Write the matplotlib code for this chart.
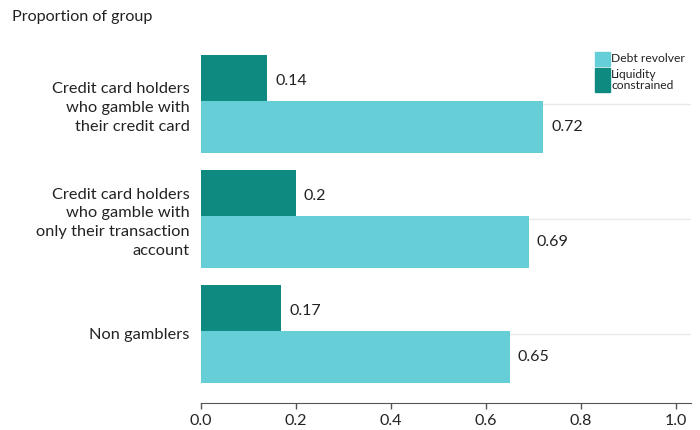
import matplotlib
matplotlib.use("Agg")
import matplotlib.pyplot as plt
from matplotlib.patches import Rectangle
import numpy as np

plt.rcParams['font.family'] = ['Lato', 'DejaVu Sans']

categories = [
    "Credit card holders\nwho gamble with\ntheir credit card",
    "Credit card holders\nwho gamble with\nonly their transaction\naccount",
    "Non gamblers",
]
liquidity_constrained = [0.14, 0.2, 0.17]
debt_revolver = [0.72, 0.69, 0.65]
series_names = ["Debt revolver", "Liquidity\nconstrained"]
x_ticks = [0.0, 0.2, 0.4, 0.6, 0.8, 1.0]
title = "Proportion of group"

light = "#66CED6"
dark = "#0E8A80"
text_col = "#222222"

fig = plt.figure(figsize=(7, 4.3), dpi=100)
ax = fig.add_axes([200.5 / 700, 1 - 403 / 430, 490 / 700, 368 / 430])

y = np.arange(len(categories))
h = 0.452
off = 0.2
ax.barh(y - off, liquidity_constrained, height=h, color=dark, zorder=2)
ax.barh(y + off, debt_revolver, height=h, color=light, zorder=3)

for yi, v in zip(y, liquidity_constrained):
    ax.text(v + 0.017, yi - off, f"{v:g}", va="center", ha="left",
            fontsize=11.5, color=text_col, zorder=4)
for yi, v in zip(y, debt_revolver):
    ax.text(v + 0.017, yi + off, f"{v:g}", va="center", ha="left",
            fontsize=11.5, color=text_col, zorder=4)

ax.set_xlim(0, 1.03)
ax.set_ylim(len(categories) - 0.4, -0.6)
ax.set_xticks(x_ticks)
ax.set_xticklabels([f"{t:.1f}" for t in x_ticks], fontsize=11.5, color=text_col)
ax.set_yticks(y)
ax.set_yticklabels(categories, fontsize=11.8, color=text_col, linespacing=1.45)
ax.tick_params(axis="y", length=0, pad=8)
ax.tick_params(axis="x", length=4, width=1, color="#555555", pad=4)
ax.yaxis.grid(True, color="#e9e9e9", linewidth=1, zorder=0)
ax.xaxis.grid(False)
for s in ["top", "right", "left"]:
    ax.spines[s].set_visible(False)
ax.spines["bottom"].set_color("#555555")

fig.text(12 / 700, 1 - 17 / 430, title, fontsize=11.6, color=text_col,
         ha="left", va="center")

# legend drawn by hand so the patch spans the two-line label
lx = 595 / 700
fig.add_artist(Rectangle((lx, 1 - 66 / 430), 15 / 700, 14 / 430,
                         transform=fig.transFigure, color=light))
fig.add_artist(Rectangle((lx, 1 - 92 / 430), 15 / 700, 24 / 430,
                         transform=fig.transFigure, color=dark))
fig.text(611 / 700, 1 - 59 / 430, series_names[0], fontsize=8.7,
         color=text_col, va="center", ha="left")
fig.text(611 / 700, 1 - 80 / 430, series_names[1], fontsize=8.7,
         color=text_col, va="center", ha="left", linespacing=1.05)

fig.savefig("out.png", dpi=100)
